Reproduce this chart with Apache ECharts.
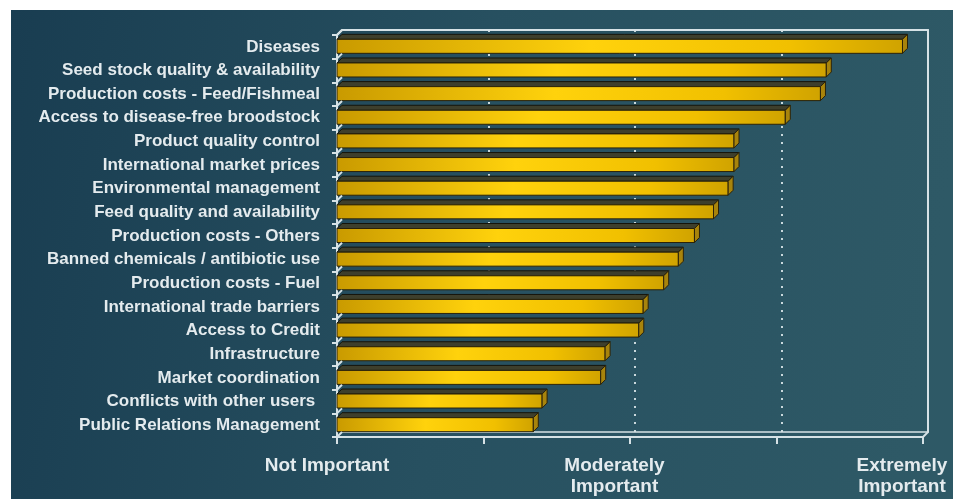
<!DOCTYPE html>
<html>
<head>
<meta charset="utf-8">
<script src="https://cdn.jsdelivr.net/npm/echarts@6/dist/echarts.min.js"></script>
<style>
  html, body { margin: 0; padding: 0; background: #ffffff; width: 953px; height: 499px; overflow: hidden; }
  #chart { position: absolute; left: 11px; top: 10px; width: 942px; height: 489px; }
</style>
</head>
<body>
<div id="chart"></div>
<script>
// Issues ranked by mean importance score (1 = not important, 5 = extremely important)
const categories = [
  'Diseases',
  'Seed stock quality & availability',
  'Production costs - Feed/Fishmeal',
  'Access to disease-free broodstock',
  'Product quality control',
  'International market prices',
  'Environmental management',
  'Feed quality and availability',
  'Production costs - Others',
  'Banned chemicals / antibiotic use',
  'Production costs - Fuel',
  'International trade barriers',
  'Access to Credit',
  'Infrastructure',
  'Market coordination',
  'Conflicts with other users ',
  'Public Relations Management'
];
const scores = [4.86, 4.34, 4.30, 4.06, 3.71, 3.71, 3.67, 3.57, 3.44, 3.33, 3.23, 3.09, 3.06, 2.83, 2.80, 2.40, 2.34];
const scaleTicks = [1, 2, 3, 4, 5];
const scaleLabels = ['Not Important', '', 'Moderately\nImportant', '', 'Extremely\nImportant'];

// plot layout (front face) and 3D depth offset
const W = 942, H = 489;
const G = { left: 326, right: 30, top: 25, bottom: 62 };
const DEPTH = 5;
const LINE = '#d6e2e6';
const TEXT = '#e4ebee';
const FONT = '"Liberation Sans", Arial, sans-serif';

const labelStyles = ['n', 'x', 'm', 'x', 'e'];

const chart = echarts.init(document.getElementById('chart'));

function renderBar(params, api) {
  const v = api.value(0);
  const idx = api.value(1);
  const start = api.coord([scaleTicks[0], idx]);
  const end = api.coord([v, idx]);
  const band = api.size([0, 1])[1];
  const x0 = start[0], x1 = end[0];
  const yc = start[1];
  const yt = yc - 7.5, yb = yc + 6.5;
  const bandTop = yc - band / 2;
  const d = DEPTH;
  return {
    type: 'group',
    children: [
      { // left-wall bevel at category boundary
        type: 'line',
        shape: { x1: x0, y1: bandTop, x2: x0 + d, y2: bandTop - d },
        style: { stroke: LINE, lineWidth: 2 }
      },
      { // top face
        type: 'polygon',
        shape: { points: [[x0, yt], [x1, yt], [x1 + d, yt - d], [x0 + d, yt - d]] },
        style: { fill: '#3e3f2c', stroke: '#15140a', lineWidth: 1 }
      },
      { // front face
        type: 'rect',
        shape: { x: x0, y: yt, width: x1 - x0, height: yb - yt },
        style: {
          fill: new echarts.graphic.LinearGradient(0, 0, 1, 0, [
            { offset: 0, color: '#c99a00' },
            { offset: 0.45, color: '#ffd20c' },
            { offset: 0.8, color: '#f1c000' },
            { offset: 1, color: '#d0a300' }
          ]),
          stroke: '#2a220a', lineWidth: 1
        }
      },
      { // end cap
        type: 'polygon',
        shape: { points: [[x1, yt], [x1 + d, yt - d], [x1 + d, yb - d], [x1, yb]] },
        style: { fill: '#a8840c', stroke: '#2a220a', lineWidth: 1 }
      }
    ]
  };
}

const fx0 = G.left, fx1 = W - G.right, fy0 = G.top, fy1 = H - G.bottom;

chart.setOption({
  animation: false,
  backgroundColor: new echarts.graphic.LinearGradient(0, 0, 1, 0.3, [
    { offset: 0, color: '#193d51' },
    { offset: 0.5, color: '#275060' },
    { offset: 1, color: '#2e5966' }
  ]),
  grid: [
    { left: G.left, right: G.right, top: G.top, bottom: G.bottom, containLabel: false, outerBoundsMode: 'none' },
    { left: G.left + DEPTH, right: G.right - DEPTH, top: G.top - DEPTH, bottom: G.bottom + DEPTH, containLabel: false, outerBoundsMode: 'none' }
  ],
  xAxis: [
    {
      gridIndex: 0, type: 'value', min: 1, max: 5, interval: 1,
      axisLine: { show: true, lineStyle: { color: LINE, width: 2 } },
      axisTick: { show: true, length: 7, lineStyle: { color: LINE, width: 2 } },
      splitLine: { show: false },
      axisLabel: {
        margin: 18,
        hideOverlap: false,
        formatter: function (val) {
          const i = scaleTicks.indexOf(val);
          const t = scaleLabels[i];
          if (!t) return '';
          return t.split('\n').map(s => '{' + labelStyles[i] + '|' + s + '}').join('\n');
        },
        rich: {
          n: { color: TEXT, fontFamily: FONT, fontWeight: 'bold', fontSize: 19, lineHeight: 21, padding: [0, 20, 0, 0] },
          m: { color: TEXT, fontFamily: FONT, fontWeight: 'bold', fontSize: 19, lineHeight: 21, padding: [0, 31, 0, 0] },
          e: { color: TEXT, fontFamily: FONT, fontWeight: 'bold', fontSize: 19, lineHeight: 21, padding: [0, 42, 0, 0] },
          x: { fontSize: 16 }
        }
      }
    },
    { // back wall floor line and dotted gridlines
      gridIndex: 1, type: 'value', min: 1, max: 5, interval: 1, position: 'bottom',
      axisLine: { show: true, lineStyle: { color: LINE, width: 1.5 } },
      axisTick: { show: false }, axisLabel: { show: false },
      splitLine: {
        show: true,
        lineStyle: { color: ['rgba(0,0,0,0)', '#c9d8dc', '#c9d8dc', '#c9d8dc', 'rgba(0,0,0,0)'], width: 2, type: [2, 6] }
      }
    },
    { // back wall top edge
      gridIndex: 1, type: 'value', min: 1, max: 5, position: 'top',
      axisLine: { show: true, lineStyle: { color: LINE, width: 2 } },
      axisTick: { show: false }, axisLabel: { show: false }, splitLine: { show: false }
    }
  ],
  yAxis: [
    {
      gridIndex: 0, type: 'category', data: categories, inverse: true,
      axisLine: { show: true, lineStyle: { color: LINE, width: 2 } },
      axisTick: { show: true, length: 5, interval: 0, lineStyle: { color: LINE, width: 2 } },
      axisLabel: { color: TEXT, fontFamily: FONT, fontWeight: 'bold', fontSize: 17, margin: 17, interval: 0 }
    },
    { // back wall right edge
      gridIndex: 1, type: 'value', min: 0, max: 1, position: 'right',
      axisLine: { show: true, lineStyle: { color: LINE, width: 2 } },
      axisTick: { show: false }, axisLabel: { show: false }, splitLine: { show: false }
    }
  ],
  series: [{
    type: 'custom',
    xAxisIndex: 0, yAxisIndex: 0,
    renderItem: renderBar,
    encode: { x: 0, y: 1 },
    data: scores.map((s, i) => [s, i]),
    z: 5
  }],
  graphic: [
    { type: 'line', z: 10, shape: { x1: fx0, y1: fy0, x2: fx0 + DEPTH, y2: fy0 - DEPTH }, style: { stroke: LINE, lineWidth: 2 } },
    { type: 'line', z: 10, shape: { x1: fx1, y1: fy1, x2: fx1 + DEPTH, y2: fy1 - DEPTH }, style: { stroke: LINE, lineWidth: 2 } },
    { type: 'line', z: 10, shape: { x1: fx0, y1: fy1, x2: fx0 + DEPTH, y2: fy1 - DEPTH }, style: { stroke: LINE, lineWidth: 2 } }
  ]
});
</script>
</body>
</html>
